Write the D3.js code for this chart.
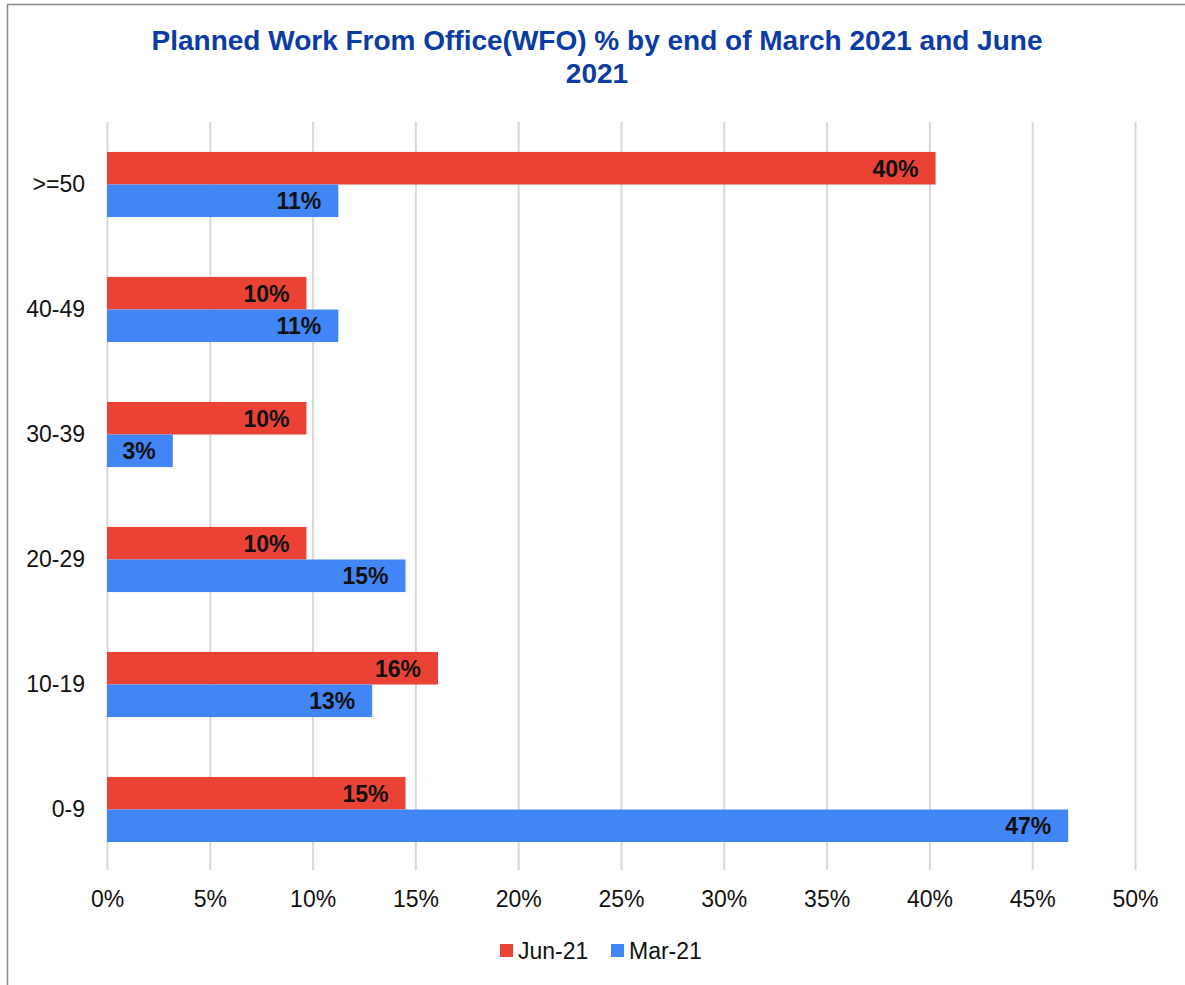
<!DOCTYPE html>
<html>
<head>
<meta charset="utf-8">
<title>Planned WFO %</title>
<script src="https://cdn.jsdelivr.net/npm/d3@7"></script>
<style>
body { margin: 0; background: #fff; }
text { font-family: Arial, "Liberation Sans", sans-serif; }
</style>
</head>
<body>
<script>
// data
var categories = [">=50", "40-49", "30-39", "20-29", "10-19", "0-9"];
var seriesNames = ["Jun-21", "Mar-21"];
var jun21 = [40.3, 9.7, 9.7, 9.7, 16.1, 14.52];
var mar21 = [11.25, 11.25, 3.2, 14.52, 12.9, 46.75];
var xTicks = [0, 5, 10, 15, 20, 25, 30, 35, 40, 45, 50];
var colors = ["#ea4335", "#4285f4"];

var width = 1185, height = 985;
var margin = {left: 107, right: 50, top: 122, bottom: 113};
var fs = 23;

var svg = d3.select("body").append("svg")
	.attr("width", width)
	.attr("height", height);

// outer frame (only top and left edges visible)
svg.append("path")
	.attr("d", "M7.5," + height + "V4.5H" + width)
	.attr("fill", "none")
	.attr("stroke", "#8a8a8a")
	.attr("stroke-width", 1.5);

var x = d3.scaleLinear().domain([0, 50]).range([margin.left, 1135]);
var y = d3.scaleBand().domain(categories).range([margin.top, height - margin.bottom]);
var inner = d3.scaleBand().domain(seriesNames)
	.range([0, y.bandwidth()]).paddingOuter(0.92);

// title
svg.append("text")
	.attr("x", 597).attr("y", 50)
	.attr("text-anchor", "middle")
	.attr("font-size", 28).attr("font-weight", "bold").attr("fill", "#0b3ca4")
	.selectAll("tspan")
	.data(["Planned Work From Office(WFO) % by end of March 2021 and June", "2021"])
	.join("tspan")
	.attr("x", 597)
	.attr("dy", function(d, i) { return i ? 33 : 0; })
	.text(function(d) { return d; });

// grid
svg.append("g").selectAll("line")
	.data(xTicks)
	.join("line")
	.attr("x1", function(d) { return x(d) + 0.5; })
	.attr("x2", function(d) { return x(d) + 0.5; })
	.attr("y1", margin.top)
	.attr("y2", height - margin.bottom - 2)
	.attr("stroke", "#d9d9d9")
	.attr("stroke-width", 2);

// x axis labels
var xAxis = svg.append("g")
	.attr("transform", "translate(0," + (height - margin.bottom) + ")")
	.call(d3.axisBottom(x).tickValues(xTicks).tickSize(0).tickPadding(19)
		.tickFormat(function(d) { return d + "%"; }));
xAxis.select(".domain").remove();
xAxis.selectAll("text").attr("font-size", fs).attr("fill", "#111")
	.style("font-family", "Arial, 'Liberation Sans', sans-serif");

// y axis labels
var yAxis = svg.append("g")
	.attr("transform", "translate(" + margin.left + ",0)")
	.call(d3.axisLeft(y).tickSize(0).tickPadding(22));
yAxis.select(".domain").remove();
yAxis.selectAll("text").attr("font-size", fs).attr("fill", "#111")
	.style("font-family", "Arial, 'Liberation Sans', sans-serif");

// bars
var rows = categories.map(function(c, i) {
	return [{s: seriesNames[0], v: jun21[i], c: c}, {s: seriesNames[1], v: mar21[i], c: c}];
});

var groups = svg.append("g").selectAll("g")
	.data(rows)
	.join("g")
	.attr("transform", function(d) { return "translate(0," + y(d[0].c) + ")"; });

groups.selectAll("rect")
	.data(function(d) { return d; })
	.join("rect")
	.attr("x", x(0))
	.attr("y", function(d) { return inner(d.s); })
	.attr("width", function(d) { return x(d.v) - x(0); })
	.attr("height", inner.bandwidth())
	.attr("fill", function(d, i) { return colors[i]; });

groups.selectAll("text.val")
	.data(function(d) { return d; })
	.join("text")
	.attr("class", "val")
	.attr("x", function(d) { return x(d.v) - 17; })
	.attr("y", function(d) { return inner(d.s) + inner.bandwidth() / 2; })
	.attr("dy", "0.36em")
	.attr("text-anchor", "end")
	.attr("font-size", fs).attr("font-weight", "bold").attr("fill", "#111")
	.text(function(d) { return Math.round(d.v) + "%"; });

// legend
var legend = svg.append("g").selectAll("g")
	.data(seriesNames)
	.join("g")
	.attr("transform", function(d, i) { return "translate(" + (500 + i * 111) + ",944)"; });
legend.append("rect")
	.attr("width", 13).attr("height", 13)
	.attr("fill", function(d, i) { return colors[i]; });
legend.append("text")
	.attr("x", 18).attr("y", 7).attr("dy", "0.36em")
	.attr("font-size", fs).attr("fill", "#111")
	.text(function(d) { return d; });
</script>
</body>
</html>
